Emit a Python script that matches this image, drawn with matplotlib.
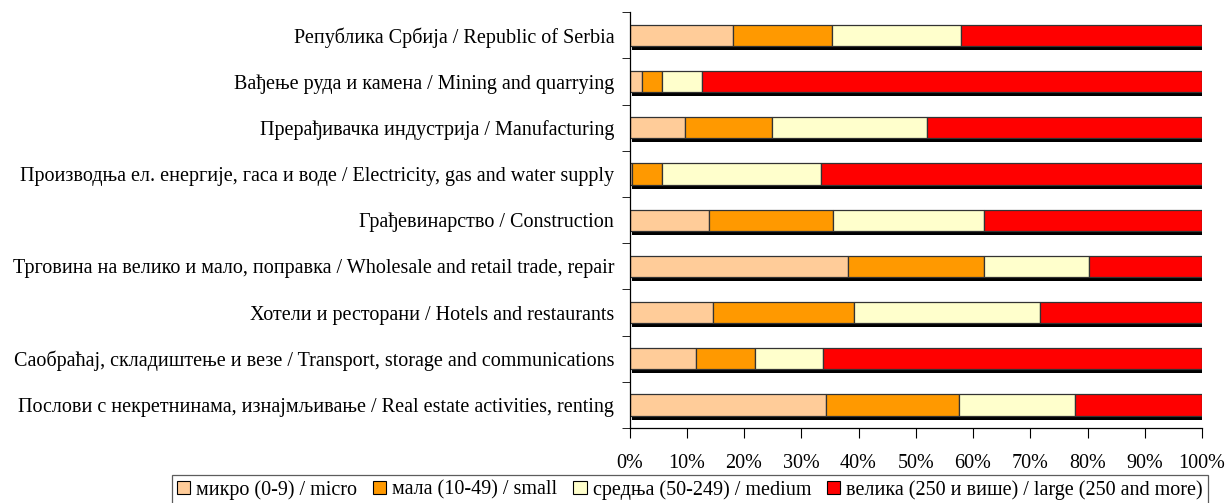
import numpy as np
import matplotlib
matplotlib.use("Agg")
import matplotlib.pyplot as plt
import matplotlib.transforms as mtransforms
from matplotlib.patches import Patch

plt.rcParams["font.family"] = ["Liberation Serif", "DejaVu Serif"]

# categories, top to bottom
categories = [
    "Република Србија / Republic of Serbia",
    "Вађење руда и камена / Mining and quarrying",
    "Прерађивачка индустрија / Manufacturing",
    "Производња ел. енергије, гаса и воде / Electricity, gas and water supply",
    "Грађевинарство / Construction",
    "Трговина на велико и мало, поправка / Wholesale and retail trade, repair",
    "Хотели и ресторани / Hotels and restaurants",
    "Саобраћај, складиштење и везе / Transport, storage and communications",
    "Послови с некретнинама, изнајмљивање / Real estate activities, renting",
]

# shares (%) by enterprise size
micro = [18.0, 2.1, 9.7, 0.5, 13.8, 38.2, 14.6, 11.6, 34.3]
small = [17.4, 3.6, 15.2, 5.2, 21.7, 23.7, 24.6, 10.3, 23.3]
medium = [22.5, 7.0, 27.1, 27.8, 26.4, 18.3, 32.5, 11.9, 20.2]
large = [42.1, 87.3, 48.0, 66.5, 38.1, 19.8, 28.3, 66.2, 22.2]

series_labels = [
    "микро (0-9) / micro",
    "мала (10-49) / small",
    "средња (50-249) / medium",
    "велика (250 и више) / large (250 and more)",
]
colors = ["#FFCC99", "#FF9900", "#FFFFCC", "#FF0000"]

fig = plt.figure(figsize=(12.25, 5.03), dpi=100)
ax = fig.add_axes([629.5 / 1225, 1 - 428 / 503, (1202 - 629.5) / 1225, (428 - 12.3) / 503])

n = len(categories)
y = np.arange(n)[::-1]
data = np.array([micro, small, medium, large])
totals = data.sum(axis=0)
bh = 0.46

# drop shadow behind each bar
shadow_tr = ax.transData + mtransforms.ScaledTranslation(2 / 100, -4 / 100, fig.dpi_scale_trans)
ax.barh(y, totals, height=bh, color="black", edgecolor="none",
        transform=shadow_tr, zorder=1)

left = np.zeros(n)
for vals, c in zip(data, colors):
    ax.barh(y, vals, left=left, height=bh, color=c, edgecolor="#333333",
            linewidth=0.9, zorder=2)
    left += vals

ax.set_xlim(0, 100)
ax.set_ylim(-0.5, n - 0.5)
ax.set_xticks(np.arange(0, 101, 10))
ax.set_xticklabels([f"{v}%" for v in range(0, 101, 10)], fontsize=14.5)
ax.tick_params(axis="x", length=7.5, pad=11, color="black")

ax.set_yticks(y)
ax.set_yticklabels(categories, fontsize=14.5)
ax.tick_params(axis="y", which="major", length=0, pad=11)
ax.set_yticks(np.arange(-0.5, n, 1), minor=True)
ax.tick_params(axis="y", which="minor", length=6, color="black")

for s in ["top", "right"]:
    ax.spines[s].set_visible(False)
for s in ["left", "bottom"]:
    ax.spines[s].set_color("black")
    ax.spines[s].set_linewidth(0.9)

handles = [Patch(facecolor=c, edgecolor="black", linewidth=0.8) for c in colors]
leg = fig.legend(handles, series_labels, ncol=4, loc="upper right",
                 bbox_to_anchor=(1208 / 1225, 1 - 475 / 503), borderaxespad=0,
                 fontsize=14.5, frameon=True, fancybox=False,
                 handlelength=0.65, handleheight=0.65, handletextpad=0.3,
                 columnspacing=0.8, borderpad=0.25)
leg.get_frame().set_edgecolor("#333333")
leg.get_frame().set_linewidth(0.9)

fig.savefig("out.png", dpi=100)
